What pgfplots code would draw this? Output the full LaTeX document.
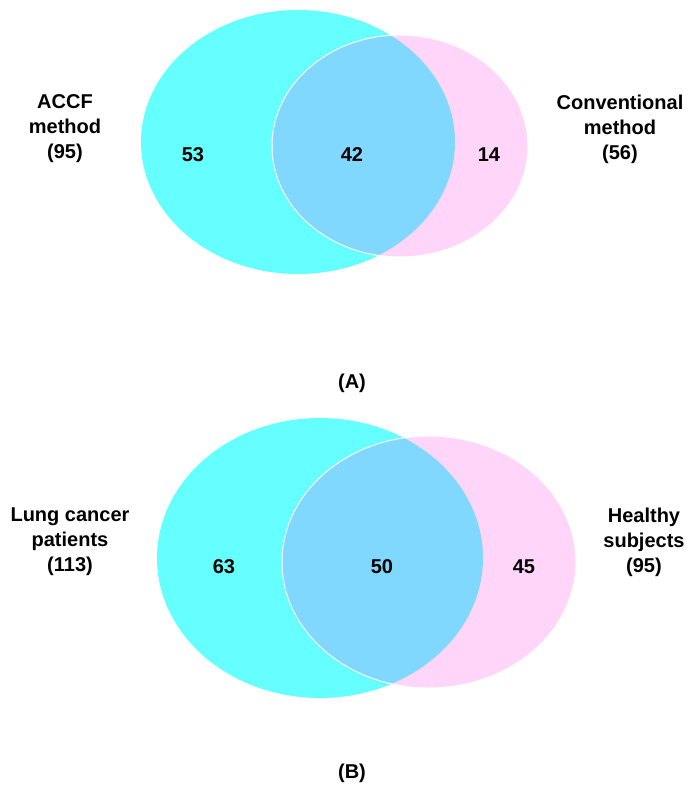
\documentclass[border=0pt]{standalone}
\usepackage{pgfplots}
\pgfplotsset{compat=1.18}
\usepackage{fontspec}
\setmainfont{Liberation Sans}
\definecolor{cya}{HTML}{66FFFF}
\definecolor{pnk}{HTML}{FFD6FA}
\definecolor{ovl}{HTML}{80D8FF}
\tikzset{lab/.style={font=\fontsize{10bp}{12.5bp}\selectfont\bfseries, align=center, inner sep=0pt}}
\begin{document}
\begin{tikzpicture}
\begin{axis}[
  width=350bp, height=396.5bp, scale only axis,
  xmin=0, xmax=700, ymin=0, ymax=793, y dir=reverse,
  axis line style={draw=none}, ticks=none, clip=false,
]
% Panel A
\fill[cya] (axis cs:298,142) ellipse [x radius=157, y radius=132];
\fill[pnk] (axis cs:400,146) ellipse [x radius=128, y radius=111];
\begin{scope}
\clip (axis cs:298,142) ellipse [x radius=157, y radius=132];
\fill[ovl] (axis cs:400,146) ellipse [x radius=128, y radius=111];
\end{scope}
\draw[white, line width=0.5pt] (axis cs:400,146) ellipse [x radius=128, y radius=111];
% Panel B
\fill[cya] (axis cs:320,558) ellipse [x radius=163, y radius=140];
\fill[pnk] (axis cs:429,562) ellipse [x radius=147, y radius=126];
\begin{scope}
\clip (axis cs:320,558) ellipse [x radius=163, y radius=140];
\fill[ovl] (axis cs:429,562) ellipse [x radius=147, y radius=126];
\end{scope}
\draw[white, line width=0.5pt] (axis cs:429,562) ellipse [x radius=147, y radius=126];
% counts
\addplot[only marks, mark=none, point meta=explicit symbolic,
  nodes near coords, nodes near coords style={anchor=center, font=\fontsize{10bp}{12bp}\selectfont\bfseries}]
  table[meta=label] {
x y label
193 155 53
352 155 42
489 155 14
224 567 63
382 567 50
524 567 45
};
\node[lab] at (axis cs:65,129) {ACCF\\method\\(95)};
\node[lab] at (axis cs:620,129) {Conventional\\method\\(56)};
\node[lab] at (axis cs:70,542) {Lung cancer\\patients\\(113)};
\node[lab] at (axis cs:644,542) {Healthy\\subjects\\(95)};
\node[lab] at (axis cs:352,383) {(A)};
\node[lab] at (axis cs:352,773) {(B)};
\end{axis}
\pgfresetboundingbox
\path (current axis.south west) rectangle (current axis.north east);
\end{tikzpicture}
\end{document}
